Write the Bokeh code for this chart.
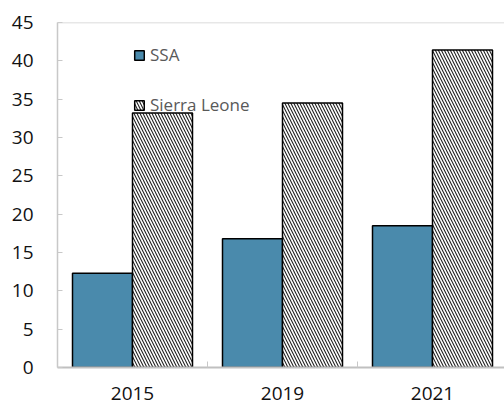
from bokeh.plotting import figure
from bokeh.models import (ColumnDataSource, Range1d, FixedTicker, Span, Legend,
                          LegendItem)
from bokeh.embed import file_html
from bokeh.resources import INLINE

years = ["2015", "2019", "2021"]
ssa = [12.3, 16.8, 18.5]
sierra_leone = [33.2, 34.5, 41.4]
y_ticks = [0, 5, 10, 15, 20, 25, 30, 35, 40, 45]

FONT = "Open Sans"
centers = [i + 0.5 for i in range(len(years))]

src = ColumnDataSource(dict(
    x_ssa=[c - 0.2 for c in centers],
    x_sl=[c + 0.2 for c in centers],
    ssa=ssa,
    sl=sierra_leone,
))

p = figure(width=504, height=406, output_backend="svg", toolbar_location=None,
           x_range=Range1d(0, 447 / 150), y_range=Range1d(0, 45),
           min_border_left=57, min_border_right=0, min_border_top=22,
           min_border_bottom=39)
p.outline_line_color = None
p.grid.visible = False
p.background_fill_color = "white"
p.border_fill_color = "white"

r1 = p.vbar(x="x_ssa", top="ssa", width=0.4, source=src,
            fill_color="#4a8aac", line_color="black", line_width=1.5)
r2 = p.vbar(x="x_sl", top="sl", width=0.4, source=src,
            fill_color="white", line_color="black", line_width=1.5,
            hatch_pattern="\\", hatch_color="#222222", hatch_scale=6,
            hatch_weight=1.1)

# top border line
p.add_layout(Span(location=45, dimension="width", line_color="#d0d0d0",
                  line_width=1.5))

# y axis
ya = p.yaxis[0]
ya.ticker = FixedTicker(ticks=y_ticks)
ya.axis_line_color = "#c8c8c8"
ya.axis_line_width = 1.5
ya.major_tick_line_color = "#c8c8c8"
ya.major_tick_in = 5
ya.major_tick_out = 0
ya.minor_tick_line_color = None
ya.major_label_standoff = 24
ya.major_label_text_font = FONT
ya.major_label_text_font_size = "19px"
ya.major_label_text_color = "#111111"

# x axis
xa = p.xaxis[0]
xa.ticker = FixedTicker(ticks=centers, minor_ticks=[1, 2])
xa.major_label_overrides = {c: y for c, y in zip(centers, years)}
xa.axis_line_color = "#c0c0c0"
xa.axis_line_width = 2
xa.major_tick_line_color = None
xa.minor_tick_line_color = "#c8c8c8"
xa.minor_tick_in = 6
xa.minor_tick_out = 0
xa.major_label_standoff = 13
xa.major_label_text_font = FONT
xa.major_label_text_font_size = "19px"
xa.major_label_text_color = "#111111"

legend = Legend(items=[LegendItem(label="SSA", renderers=[r1]),
                       LegendItem(label="Sierra Leone", renderers=[r2])],
                location=(76, 251), orientation="vertical",
                background_fill_alpha=0, border_line_color=None,
                margin=0, padding=0, spacing=27,
                glyph_width=12, glyph_height=12, label_height=20,
                label_standoff=5, label_text_font=FONT,
                label_text_font_size="17px", label_text_color="#595959")
p.add_layout(legend)

open("out.html", "w").write(file_html(p, INLINE))
